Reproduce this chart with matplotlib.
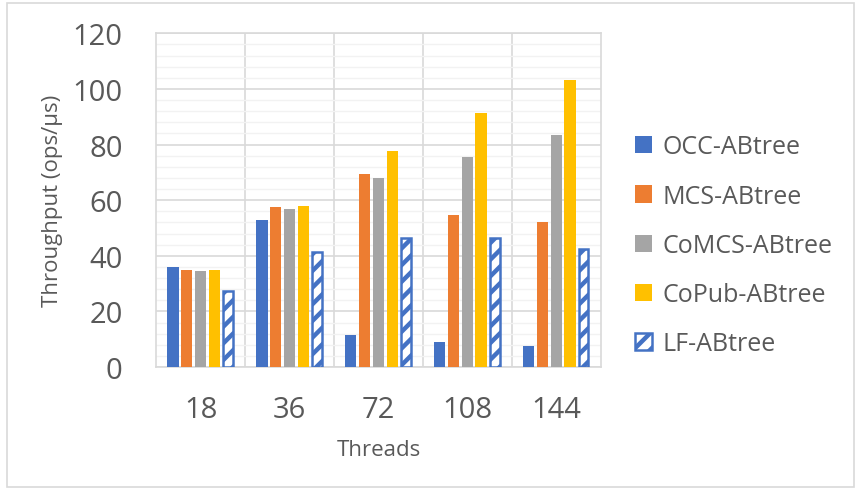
import numpy as np
import matplotlib.pyplot as plt
from matplotlib.patches import Rectangle
from matplotlib.ticker import MultipleLocator

threads = ["18", "36", "72", "108", "144"]
series = ["OCC-ABtree", "MCS-ABtree", "CoMCS-ABtree", "CoPub-ABtree", "LF-ABtree"]

occ = [35.9, 52.9, 11.4, 9.1, 7.4]
mcs = [35.0, 57.6, 69.5, 54.5, 52.2]
comcs = [34.6, 56.9, 68.1, 75.6, 83.5]
copub = [35.0, 57.8, 77.5, 91.4, 103.1]
lf = [27.5, 41.2, 46.5, 46.5, 42.5]

couleurs = ["#4472C4", "#ED7D31", "#A5A5A5", "#FFC000"]
gris_texte = "#595959"

plt.rcParams["font.family"] = ["Open Sans", "DejaVu Sans"]
plt.rcParams["hatch.linewidth"] = 3.2
plt.rcParams["hatch.color"] = "#4472C4"

fig = plt.figure(figsize=(8.55, 4.89), dpi=100)
ax = fig.add_axes([0.1825, 0.2474, 0.5201, 0.6825])

x = np.arange(len(threads))
pas = 0.1545
largeur = 0.125

for i, (vals, coul) in enumerate(zip([occ, mcs, comcs, copub], couleurs)):
    ax.bar(x + (i - 2) * pas, vals, largeur, color=coul, label=series[i], zorder=3)

# LF : barres blanches hachurées
ax.bar(x + 2 * pas, lf, largeur - 0.018, color="white", edgecolor="#4472C4",
       linewidth=1.8, hatch="//", label=series[4], zorder=3)

# axes et grilles
ax.set_xlim(-0.5, len(threads) - 0.5)
ax.set_ylim(0, 120)
ax.yaxis.set_major_locator(MultipleLocator(20))
ax.yaxis.set_minor_locator(MultipleLocator(4))
ax.grid(which="major", axis="y", color="#D9D9D9", linewidth=1.2, zorder=1)
ax.grid(which="minor", axis="y", color="#F2F2F2", linewidth=1.0, zorder=0)
for b in np.arange(0.5, len(threads) - 0.5, 1):
    ax.axvline(b, color="#D9D9D9", linewidth=1.2, zorder=1)
for s in ax.spines.values():
    s.set_color("#D9D9D9")
    s.set_linewidth(1.2)

ax.set_xticks(x)
ax.set_xticklabels(threads)
ax.tick_params(which="both", length=0)
ax.tick_params(axis="y", labelsize=21, labelcolor=gris_texte, pad=24)
ax.tick_params(axis="x", labelsize=21, labelcolor=gris_texte, pad=20)

ax.set_xlabel("Threads", fontsize=16, color=gris_texte, labelpad=11)
ax.set_ylabel("Throughput (ops/μs)", fontsize=16, color=gris_texte, labelpad=7)

leg = fig.legend(loc="center left", bbox_to_anchor=(0.7427, 0.496), frameon=False,
                 fontsize=18, handlelength=0.68, handleheight=0.68,
                 handletextpad=0.4, labelspacing=0.97, borderpad=0, borderaxespad=0)
for t in leg.get_texts():
    t.set_color(gris_texte)

# cadre autour du graphique
fig.patches.append(Rectangle((7 / 855, 1 / 489), 847 / 855, 484 / 489,
                             transform=fig.transFigure, fill=False,
                             edgecolor="#D9D9D9", linewidth=1.2))

fig.savefig("out.png", dpi=100)
